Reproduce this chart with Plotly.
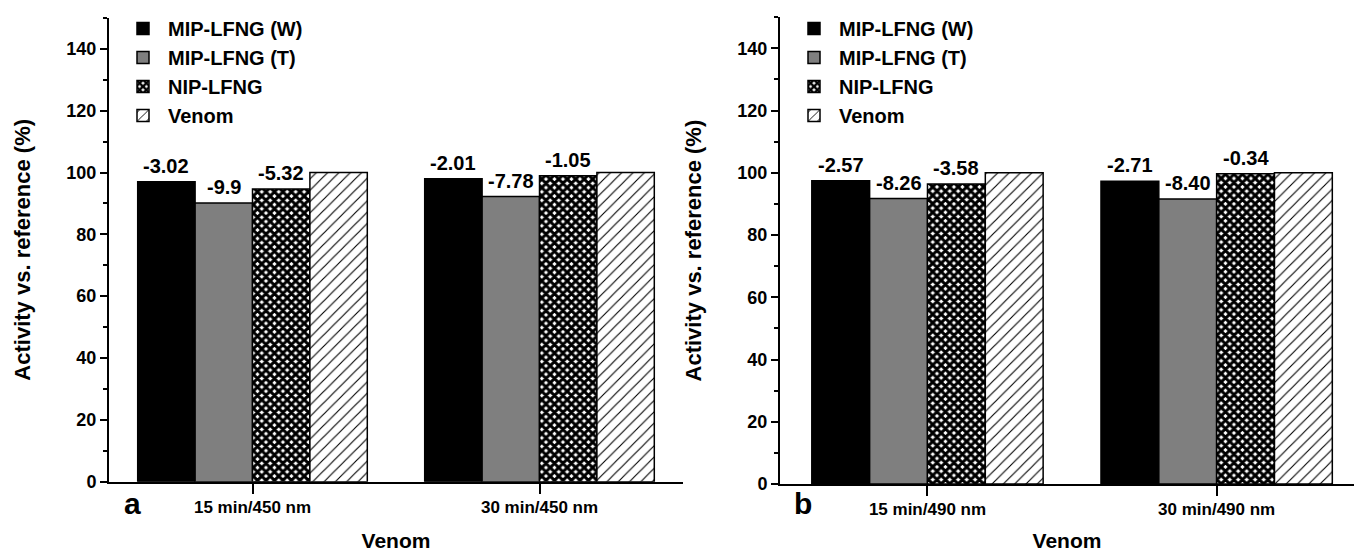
import plotly.graph_objects as go

W, H = 1354, 552

series_names = ["MIP-LFNG (W)", "MIP-LFNG (T)", "NIP-LFNG", "Venom"]

# Panel a (450 nm)
cats_a = ["15 min/450 nm", "30 min/450 nm"]
w_a = [96.98, 97.99]
t_a = [90.10, 92.22]
nip_a = [94.68, 98.95]
venom_a = [100.0, 100.0]
lab_w_a = ["-3.02", "-2.01"]
lab_t_a = ["-9.9", "-7.78"]
lab_nip_a = ["-5.32", "-1.05"]

# Panel b (490 nm)
cats_b = ["15 min/490 nm", "30 min/490 nm"]
w_b = [97.43, 97.29]
t_b = [91.74, 91.60]
nip_b = [96.42, 99.66]
venom_b = [100.0, 100.0]
lab_w_b = ["-2.57", "-2.71"]
lab_t_b = ["-8.26", "-8.40"]
lab_nip_b = ["-3.58", "-0.34"]

y_ticks = [0, 20, 40, 60, 80, 100, 120, 140]

FONT = "Liberation Sans, Arial, sans-serif"

styles = [
    dict(color="black", pattern=None),
    dict(color="#7f7f7f", pattern=None),
    dict(color="white", pattern=dict(shape="x", fgcolor="black", bgcolor="white",
                                      size=6, solidity=0.75, fillmode="replace")),
    dict(color="white", pattern=dict(shape="/", fgcolor="black", bgcolor="white",
                                      size=8, solidity=0.14, fillmode="replace")),
]

BARGAP = 0.2
N_SER = len(series_names)

xdom_a = [109 / W, 683 / W]
xdom_b = [780 / W, 1.0]
xrange_a = [-0.5, 1.5]
xrange_b = [-0.51, 1.475]
ydom_a = [(H - 481.7) / H, (H - 17.9) / H]
ydom_b = [(H - 484) / H, (H - 17.2) / H]

fig = go.Figure()
annotations = []


def add_panel(cats, vals, labels, xa, ya, legend_name, xdom, xrange):
    unit_px = (xdom[1] - xdom[0]) * W / (xrange[1] - xrange[0])
    bar_w = (1 - BARGAP) / N_SER
    for i, (name, v) in enumerate(zip(series_names, vals)):
        st = styles[i]
        marker = dict(color=st["color"], line=dict(color="black", width=1.5))
        if st["pattern"] is not None:
            marker["pattern"] = st["pattern"]
        fig.add_trace(go.Bar(
            x=cats, y=v, name=name, marker=marker,
            xaxis=xa, yaxis=ya, legend=legend_name, legendgroup=legend_name + name,
            showlegend=True,
        ))
        if i < len(labels):
            offset = (-(1 - BARGAP) / 2 + bar_w * (i + 0.5)) * unit_px
            for c, val, lab in zip(cats, v, labels[i]):
                annotations.append(dict(
                    text=lab, x=c, y=val, xref=xa, yref=ya, showarrow=False,
                    xanchor="center", yanchor="bottom", xshift=offset, yshift=3,
                    font=dict(family=FONT, size=20, color="black", weight="bold")))


add_panel(cats_a, [w_a, t_a, nip_a, venom_a], [lab_w_a, lab_t_a, lab_nip_a], "x", "y", "legend",
          xdom_a, xrange_a)
add_panel(cats_b, [w_b, t_b, nip_b, venom_b], [lab_w_b, lab_t_b, lab_nip_b], "x2", "y2", "legend2",
          xdom_b, xrange_b)

xcommon = dict(type="category", showline=True, linecolor="black", linewidth=2,
               ticks="outside", ticklen=10, tickwidth=2, tickcolor="black",
               showgrid=False, zeroline=False, automargin=False, ticklabelstandoff=-1,
               tickfont=dict(family=FONT, size=17, color="black", weight="bold"),
               title=dict(text="Venom", font=dict(family=FONT, size=21, color="black", weight="bold"),
                          standoff=17))
ycommon = dict(range=[0, 150], tickvals=y_ticks, showline=True, linecolor="black", linewidth=2,
               ticks="outside", ticklen=7, tickwidth=2, tickcolor="black",
               minor=dict(dtick=10, ticks="outside", ticklen=4, tickwidth=2, tickcolor="black"),
               showgrid=False, zeroline=False, automargin=False,
               tickfont=dict(family=FONT, size=18, color="black", weight="bold"),
               title=dict(text="Activity vs. reference (%)",
                          font=dict(family=FONT, size=22, color="black", weight="bold"),
                          standoff=30))

legend_common = dict(bgcolor="rgba(0,0,0,0)", borderwidth=0, xanchor="left", yanchor="top",
                     font=dict(family=FONT, size=20, color="black", weight="bold"),
                     tracegroupgap=10, itemwidth=40, traceorder="normal")

annotations += [
    dict(text="a", x=132 / W, y=1 - 503 / H, xref="paper", yref="paper", showarrow=False,
         font=dict(family=FONT, size=30, color="black", weight="bold"), xanchor="center", yanchor="middle"),
    dict(text="b", x=803 / W, y=1 - 504 / H, xref="paper", yref="paper", showarrow=False,
         font=dict(family=FONT, size=30, color="black", weight="bold"), xanchor="center", yanchor="middle"),
]

fig.update_layout(
    width=W, height=H,
    margin=dict(l=0, r=0, t=0, b=0),
    paper_bgcolor="white", plot_bgcolor="white",
    barmode="group", bargap=BARGAP, bargroupgap=0,
    showlegend=True,
    xaxis=dict(domain=xdom_a, anchor="y", range=xrange_a, **xcommon),
    yaxis=dict(domain=ydom_a, anchor="x", **ycommon),
    xaxis2=dict(domain=xdom_b, anchor="y2", range=xrange_b, **xcommon),
    yaxis2=dict(domain=ydom_b, anchor="x2", **ycommon),
    legend=dict(x=118 / W, y=1 - 9 / H, **legend_common),
    legend2=dict(x=789 / W, y=1 - 9 / H, **legend_common),
    annotations=annotations,
)

fig.write_html("out.html", config={"displayModeBar": False},
               post_script="document.body.style.margin='0px';")
